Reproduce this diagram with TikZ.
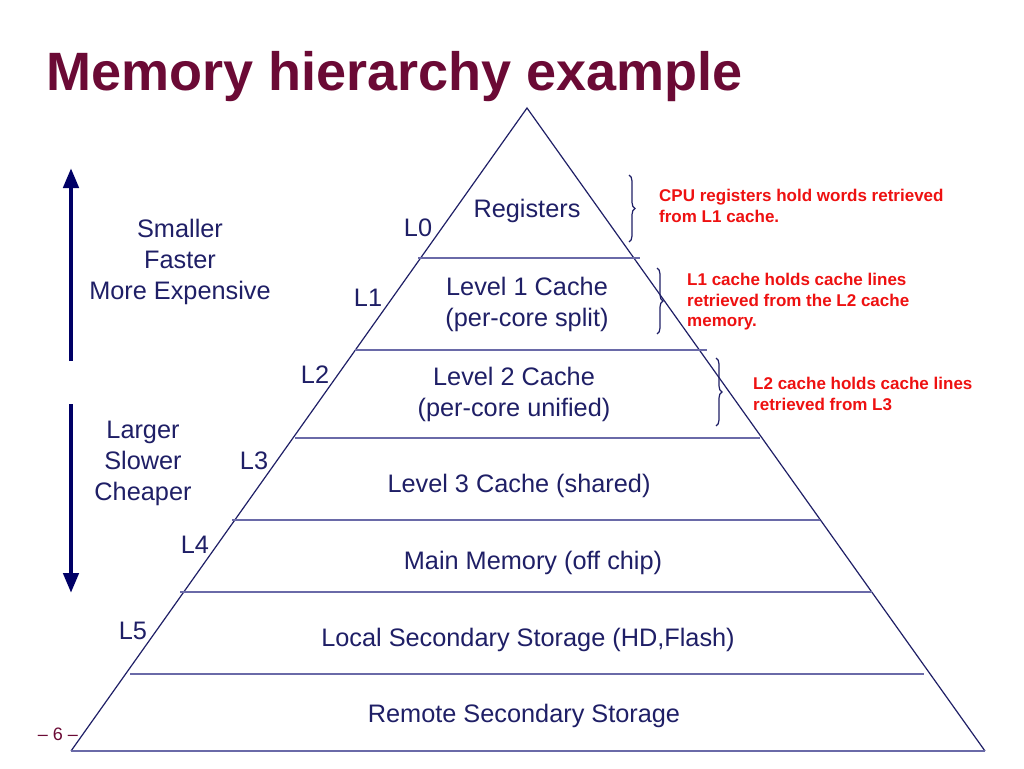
\documentclass[tikz,border=0pt]{standalone}
\usepackage{fontspec}
\setmainfont{Liberation Sans}
\usetikzlibrary{arrows.meta,decorations.pathreplacing}
\definecolor{navy}{HTML}{1F1F66}
\definecolor{arrownavy}{HTML}{000066}
\definecolor{linecol}{HTML}{6A6AA8}
\definecolor{titlecol}{HTML}{6B0A35}
\definecolor{redtxt}{HTML}{EE1111}
\tikzset{
  lvl/.style={text=navy, font=\fontsize{25.3}{31}\selectfont, align=center, inner sep=0pt},
  lab/.style={text=navy, font=\fontsize{25.3}{31}\selectfont, inner sep=0pt},
  note/.style={text=redtxt, font=\bfseries\fontsize{17}{20.5}\selectfont, align=left, anchor=west, inner sep=0pt},
  side/.style={draw=navy, line width=1.2pt},
  sep/.style={draw=linecol, line width=2pt},
  bigarrow/.style={draw=arrownavy, line width=4.5pt, -{Triangle[width=15pt,length=20pt]}},
  bracestyle/.style={draw=navy, line width=1.2pt, decorate, decoration={brace, amplitude=6pt}}
}
\begin{document}
\begin{tikzpicture}[x=1pt,y=-1pt]
\useasboundingbox (0,0) rectangle (1024,768);
\fill[white] (0,0) rectangle (1024,768);
% title
\node[anchor=base west, inner sep=0pt, text=titlecol, font=\bfseries\fontsize{54}{60}\selectfont] (title) at (46,90) {Memory hierarchy example};
% triangle
\coordinate (apex) at (527,108);
\coordinate (bl) at (71,751);
\coordinate (br) at (985,751);
\draw[side] (bl) -- (apex) -- (br);
\draw[sep] (bl) -- (br);
% separators
\coordinate (s0l) at (418,258); \coordinate (s0r) at (640,258);
\coordinate (s1l) at (355,350); \coordinate (s1r) at (707,350);
\coordinate (s2l) at (295,438); \coordinate (s2r) at (760,438);
\coordinate (s3l) at (232,520); \coordinate (s3r) at (820,520);
\coordinate (s4l) at (180,592); \coordinate (s4r) at (872,592);
\coordinate (s5l) at (130,674); \coordinate (s5r) at (924,674);
\draw[sep] (s0l) -- (s0r);
\draw[sep] (s1l) -- (s1r);
\draw[sep] (s2l) -- (s2r);
\draw[sep] (s3l) -- (s3r);
\draw[sep] (s4l) -- (s4r);
\draw[sep] (s5l) -- (s5r);
% level texts
\node[lvl] (reg) at (527,211) {Registers};
\node[lvl] (l1c) at (527,304) {Level 1 Cache\\(per-core split)};
\node[lvl] (l2c) at (514,394) {Level 2 Cache\\(per-core unified)};
\node[lvl] (l3c) at (519,486) {Level 3 Cache (shared)};
\node[lvl] (mm) at (533,563) {Main Memory (off chip)};
\node[lvl] (lss) at (528,640) {Local Secondary Storage (HD,Flash)};
\node[lvl] (rss) at (524,716) {Remote Secondary Storage};
% L labels
\node[lab] (L0) at (418,228) {L0};
\node[lab] (L1) at (368,298) {L1};
\node[lab] (L2) at (315,375) {L2};
\node[lab] (L3) at (254,461) {L3};
\node[lab] (L4) at (195,545) {L4};
\node[lab] (L5) at (133,631) {L5};
% left texts
\node[lvl] (small) at (180,262) {Smaller\\Faster\\More Expensive};
\node[lvl] (large) at (143,463) {Larger\\Slower\\Cheaper};
\coordinate (upbot) at (71,361);
\coordinate (uptop) at (71,168);
\coordinate (dntop) at (71,404);
\coordinate (dnbot) at (71,593);
\draw[bigarrow] (upbot) -- (uptop);
\draw[bigarrow] (dntop) -- (dnbot);
% braces
\coordinate (b1t) at (629,175); \coordinate (b1b) at (629,242);
\coordinate (b2t) at (657,268); \coordinate (b2b) at (657,334);
\coordinate (b3t) at (716,358); \coordinate (b3b) at (716,426);
\draw[bracestyle] (b1t) -- (b1b);
\draw[bracestyle] (b2t) -- (b2b);
\draw[bracestyle] (b3t) -- (b3b);
% notes
\node[note] (n1) at (659,206) {CPU registers hold words retrieved\\from L1 cache.};
\node[note] (n2) at (687,302) {L1 cache holds cache lines\\retrieved from the L2 cache\\memory.};
\node[note] (n3) at (753,394) {L2 cache holds cache lines\\retrieved from L3};
% page number
\node[text=titlecol, font=\fontsize{18}{20}\selectfont, inner sep=0pt] (pg) at (58,734) {– 6 –};
\end{tikzpicture}
\end{document}
